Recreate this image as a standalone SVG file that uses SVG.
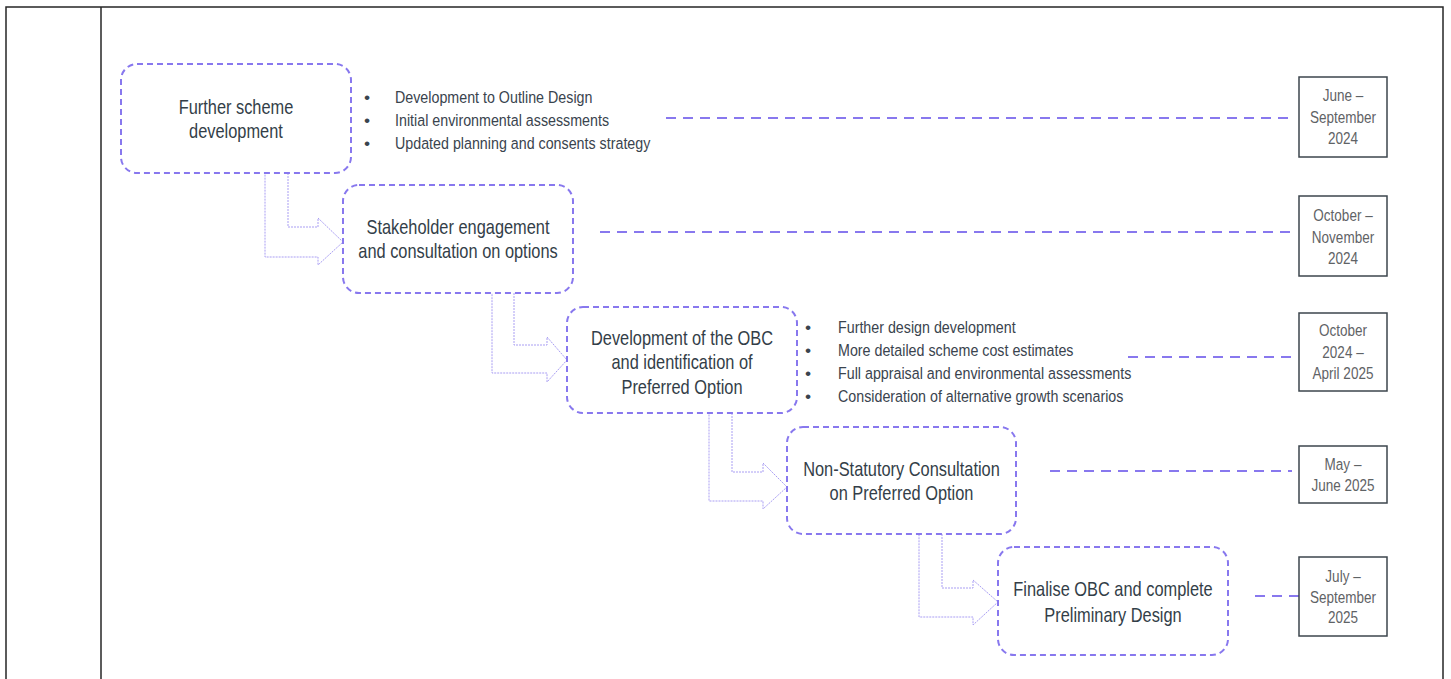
<svg xmlns="http://www.w3.org/2000/svg" width="1451" height="679" viewBox="0 0 1451 679">
<style>
.frame{fill:none;stroke:#262626;stroke-width:1.5}
.node{fill:#fff;stroke:#8878ee;stroke-width:2;stroke-dasharray:6 4}
.nt{font-family:"Liberation Sans",Arial,sans-serif;font-size:20px;fill:#333e48;text-anchor:middle}
.bt{font-family:"Liberation Sans",Arial,sans-serif;font-size:17.4px;fill:#3a444e}
.date{fill:#fff;stroke:#3d464d;stroke-width:1.5}
.dt{font-family:"Liberation Sans",Arial,sans-serif;font-size:16.5px;fill:#5f6366;text-anchor:middle}
.lead{fill:none;stroke:#8878ee;stroke-width:2;stroke-dasharray:10 7}
.arr{fill:none;stroke:#a99ef3;stroke-width:1;stroke-dasharray:2 1}
</style>
<rect x="0" y="0" width="1451" height="679" fill="#fff"/>
<g id="frame">
<rect class="frame" x="6" y="7" width="1437" height="690"/>
<line class="frame" x1="101" y1="7" x2="101" y2="679"/>
</g>
<g id="connectors">
<path class="arr" d="M288,173 V227 H318 V218 L343,242 L318,265 V257 H265 V173"/>
<path class="arr" d="M514,293 V345 H547 V337 L567,360 L547,382 V373 H492 V293"/>
<path class="arr" d="M732,413 V472 H763 V463 L787,487 L763,509 V501 H709 V413"/>
<path class="arr" d="M942,534 V588 H973 V580 L998,602 L973,625 V617 H919 V534"/>
<line class="lead" x1="666" y1="118" x2="1292" y2="118"/>
<line class="lead" x1="600" y1="232" x2="1292" y2="232"/>
<line class="lead" x1="1128" y1="357" x2="1292" y2="357"/>
<line class="lead" x1="1050" y1="471" x2="1292" y2="471"/>
<line class="lead" x1="1255" y1="596" x2="1299" y2="596"/>
</g>
<g id="n1">
<rect class="node" x="121" y="64" width="230" height="109" rx="16"/>
<text class="nt" x="0" y="114" transform="matrix(0.82 0 0 1 236 0)">Further scheme</text>
<text class="nt" x="0" y="138" transform="matrix(0.82 0 0 1 236 0)">development</text>
</g>
<g id="b1">
<text class="bt" x="364" y="103">•</text><text class="bt" x="0" y="103" transform="matrix(0.82 0 0 1 395 0)">Development to Outline Design</text>
<text class="bt" x="364" y="126">•</text><text class="bt" x="0" y="126" transform="matrix(0.82 0 0 1 395 0)">Initial environmental assessments</text>
<text class="bt" x="364" y="149">•</text><text class="bt" x="0" y="149" transform="matrix(0.82 0 0 1 395 0)">Updated planning and consents strategy</text>
</g>
<g id="n2">
<rect class="node" x="343" y="185" width="230" height="108" rx="16"/>
<text class="nt" x="0" y="234" transform="matrix(0.82 0 0 1 458 0)">Stakeholder engagement</text>
<text class="nt" x="0" y="258" transform="matrix(0.82 0 0 1 458 0)">and consultation on options</text>
</g>
<g id="n3">
<rect class="node" x="567" y="307" width="230" height="106" rx="16"/>
<text class="nt" x="0" y="345" transform="matrix(0.82 0 0 1 682 0)">Development of the OBC</text>
<text class="nt" x="0" y="369" transform="matrix(0.82 0 0 1 682 0)">and identification of</text>
<text class="nt" x="0" y="394" transform="matrix(0.82 0 0 1 682 0)">Preferred Option</text>
</g>
<g id="b3">
<text class="bt" x="805" y="333">•</text><text class="bt" x="0" y="333" transform="matrix(0.82 0 0 1 838 0)">Further design development</text>
<text class="bt" x="805" y="356">•</text><text class="bt" x="0" y="356" transform="matrix(0.82 0 0 1 838 0)">More detailed scheme cost estimates</text>
<text class="bt" x="805" y="379">•</text><text class="bt" x="0" y="379" transform="matrix(0.82 0 0 1 838 0)">Full appraisal and environmental assessments</text>
<text class="bt" x="805" y="402">•</text><text class="bt" x="0" y="402" transform="matrix(0.82 0 0 1 838 0)">Consideration of alternative growth scenarios</text>
</g>
<g id="n4">
<rect class="node" x="787" y="427" width="229" height="107" rx="16"/>
<text class="nt" x="0" y="476" transform="matrix(0.82 0 0 1 901.5 0)">Non-Statutory Consultation</text>
<text class="nt" x="0" y="500" transform="matrix(0.82 0 0 1 901.5 0)">on Preferred Option</text>
</g>
<g id="n5">
<rect class="node" x="998" y="547" width="230" height="108" rx="16"/>
<text class="nt" x="0" y="596" transform="matrix(0.82 0 0 1 1113 0)">Finalise OBC and complete</text>
<text class="nt" x="0" y="622" transform="matrix(0.82 0 0 1 1113 0)">Preliminary Design</text>
</g>
<g id="d1">
<rect class="date" x="1299" y="77" width="88" height="80"/>
<text class="dt" x="0" y="101" transform="matrix(0.82 0 0 1 1343 0)">June –</text>
<text class="dt" x="0" y="123" transform="matrix(0.82 0 0 1 1343 0)">September</text>
<text class="dt" x="0" y="144" transform="matrix(0.82 0 0 1 1343 0)">2024</text>
</g>
<g id="d2">
<rect class="date" x="1299" y="196" width="88" height="80"/>
<text class="dt" x="0" y="221" transform="matrix(0.82 0 0 1 1343 0)">October –</text>
<text class="dt" x="0" y="243" transform="matrix(0.82 0 0 1 1343 0)">November</text>
<text class="dt" x="0" y="264" transform="matrix(0.82 0 0 1 1343 0)">2024</text>
</g>
<g id="d3">
<rect class="date" x="1299" y="313" width="88" height="78"/>
<text class="dt" x="0" y="336" transform="matrix(0.82 0 0 1 1343 0)">October</text>
<text class="dt" x="0" y="358" transform="matrix(0.82 0 0 1 1343 0)">2024 –</text>
<text class="dt" x="0" y="379" transform="matrix(0.82 0 0 1 1343 0)">April 2025</text>
</g>
<g id="d4">
<rect class="date" x="1299" y="446" width="88" height="57"/>
<text class="dt" x="0" y="470" transform="matrix(0.82 0 0 1 1343 0)">May –</text>
<text class="dt" x="0" y="491" transform="matrix(0.82 0 0 1 1343 0)">June 2025</text>
</g>
<g id="d5">
<rect class="date" x="1299" y="557" width="88" height="79"/>
<text class="dt" x="0" y="582" transform="matrix(0.82 0 0 1 1343 0)">July –</text>
<text class="dt" x="0" y="603" transform="matrix(0.82 0 0 1 1343 0)">September</text>
<text class="dt" x="0" y="623" transform="matrix(0.82 0 0 1 1343 0)">2025</text>
</g>
</svg>
